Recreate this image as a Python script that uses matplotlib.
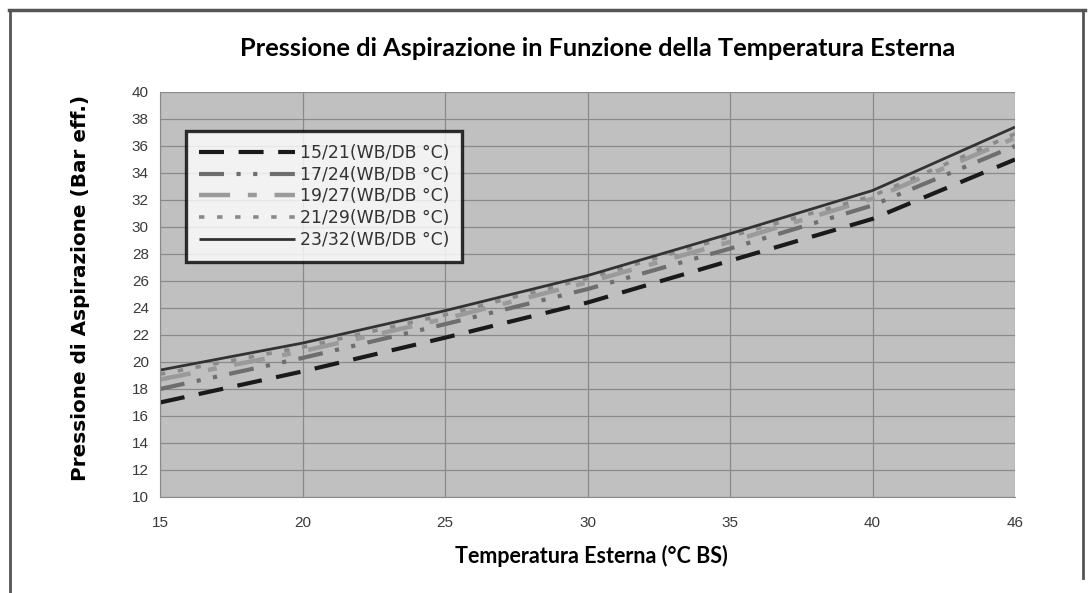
import matplotlib
matplotlib.use("Agg")
import matplotlib.pyplot as plt
from matplotlib.lines import Line2D

categories = ["15", "20", "25", "30", "35", "40", "46"]
s15_21 = [17.0, 19.3, 21.8, 24.4, 27.5, 30.6, 35.0]
s17_24 = [18.0, 20.3, 22.8, 25.4, 28.4, 31.6, 36.0]
s19_27 = [18.7, 20.8, 23.2, 25.9, 28.9, 32.1, 36.6]
s21_29 = [19.1, 21.1, 23.5, 26.2, 29.3, 32.3, 36.9]
s23_32 = [19.4, 21.4, 23.8, 26.4, 29.5, 32.7, 37.4]
series_labels = ["15/21(WB/DB °C)", "17/24(WB/DB °C)", "19/27(WB/DB °C)",
                 "21/29(WB/DB °C)", "23/32(WB/DB °C)"]
yticks = list(range(10, 41, 2))

fig = plt.figure(figsize=(10.9, 5.93), dpi=100)
fig.patch.set_facecolor("white")
ax = fig.add_axes([0.1468, 0.1619, 0.7844, 0.683])
ax.set_facecolor("#c0c0c0")

x = list(range(len(categories)))
styles = [
    dict(color="#1a1a1a", lw=3.0, dashes=(6, 3.5)),
    dict(color="#6e6e6e", lw=3.0, dashes=(6, 3, 1, 3, 1, 3)),
    dict(color="#9a9a9a", lw=3.2, dashes=(7, 4, 2, 4)),
    dict(color="#8a8a8a", lw=2.6, dashes=(1.5, 3.5)),
    dict(color="#333333", lw=2.0),
]
data = [s15_21, s17_24, s19_27, s21_29, s23_32]
for vals, st, lab in zip(data, styles, series_labels):
    kw = dict(st)
    d = kw.pop("dashes", None)
    line, = ax.plot(x, vals, label=lab, solid_capstyle="butt", dash_capstyle="butt", **kw)
    if d is not None:
        line.set_dashes(d)

ax.set_xlim(0, len(categories) - 1)
ax.set_ylim(10, 40)
ax.set_xticks(x)
ax.set_xticklabels(categories)
ax.set_yticks(yticks)
ax.grid(True, color="#8a8a8a", lw=0.9)
ax.set_axisbelow(True)
for sp in ax.spines.values():
    sp.set_visible(False)
ax.spines["left"].set_visible(True)
ax.spines["bottom"].set_visible(True)
ax.spines["left"].set_color("#8a8a8a")
ax.spines["bottom"].set_color("#8a8a8a")
ax.tick_params(axis="both", length=0, labelsize=11, labelcolor="#3a3a3a", colors="#444444")
ax.tick_params(axis="x", pad=14)
ax.tick_params(axis="y", pad=8)
for t in ax.get_xticklabels() + ax.get_yticklabels():
    t.set_family("Liberation Sans")

leg = ax.legend(loc="upper left", bbox_to_anchor=(0.030, 0.904), frameon=True,
                fancybox=False, handlelength=5.6, handletextpad=0.3,
                borderpad=0.75, labelspacing=0.22, borderaxespad=0,
                prop={"family": "DejaVu Sans", "size": 12.4})
leg.get_frame().set_edgecolor("black")
leg.get_frame().set_linewidth(2.4)
for t in leg.get_texts():
    t.set_color("#333333")

fig.text(0.548, 0.918, "Pressione di Aspirazione in Funzione della Temperatura Esterna",
         ha="center", va="center", fontsize=18.3, fontweight="bold", family="Lato")
fig.text(0.543, 0.063, "Temperatura Esterna (°C BS)", ha="center", va="center",
         fontsize=15.5, fontweight="bold", family="Lato")
fig.text(0.074, 0.514, "Pressione di Aspirazione (Bar eff.)", ha="center", va="center",
         rotation=90, fontsize=14.4, fontweight="bold", family="DejaVu Sans")

# outer frame
fig.add_artist(Line2D([0.008, 0.995], [0.983, 0.983], color="#555555", lw=2.5, transform=fig.transFigure))
fig.add_artist(Line2D([0.009, 0.009], [0.0, 0.983], color="#555555", lw=2.0, transform=fig.transFigure))
fig.add_artist(Line2D([0.994, 0.994], [0.025, 0.983], color="#555555", lw=2.0, transform=fig.transFigure))

fig.savefig("out.png", dpi=100, facecolor="white")
